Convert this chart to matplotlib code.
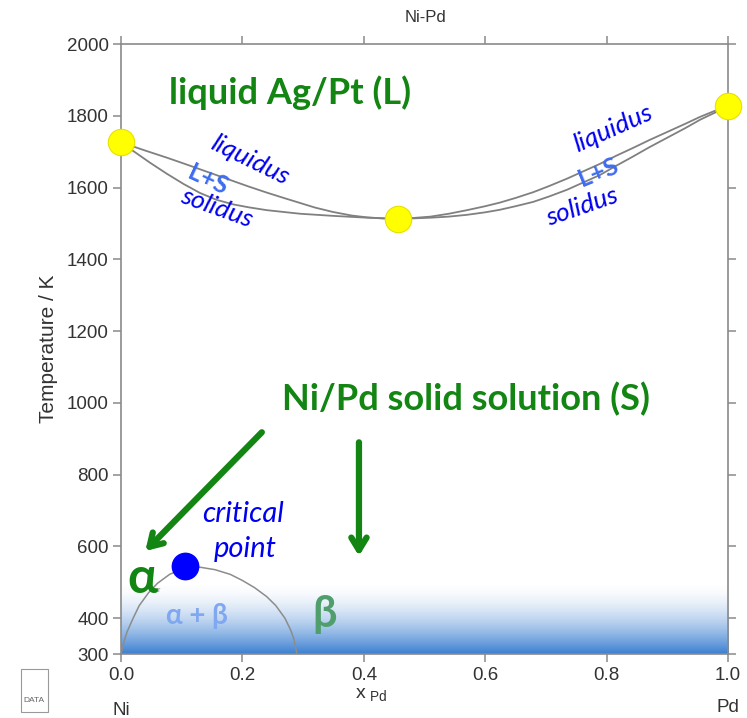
import numpy as np
import matplotlib.pyplot as plt
from matplotlib.patches import Rectangle

plt.rcParams['font.family'] = ['Liberation Sans', 'DejaVu Sans']
plt.rcParams['mathtext.fontset'] = 'custom'
plt.rcParams['mathtext.rm'] = 'Liberation Sans'

# ---------------- data (x_Pd, T in K) ----------------
liq_x = [0.0, 0.04, 0.076, 0.105, 0.13, 0.16, 0.185, 0.21, 0.24, 0.27, 0.295,
         0.32, 0.349, 0.38, 0.405, 0.43, 0.456, 0.48, 0.51, 0.54, 0.57, 0.60,
         0.624, 0.65, 0.679, 0.705, 0.735, 0.76, 0.789, 0.815, 0.843, 0.87,
         0.90, 0.93, 0.954, 0.98, 1.0]
liq_T = [1726, 1703, 1683, 1666, 1651, 1633, 1618, 1603, 1586, 1570, 1557,
         1544, 1532, 1522, 1517, 1514, 1513, 1515, 1519, 1527, 1537, 1548,
         1558, 1571, 1587, 1604, 1625, 1644, 1666, 1688, 1710, 1732,
         1755, 1778, 1797, 1815, 1828]

sol_x = [0.0, 0.02, 0.048, 0.075, 0.103, 0.13, 0.157, 0.185, 0.21, 0.24,
         0.295, 0.35, 0.405, 0.456, 0.48, 0.51, 0.54, 0.57, 0.60, 0.624,
         0.65, 0.679, 0.705, 0.735, 0.76, 0.789, 0.815, 0.843, 0.87, 0.90,
         0.93, 0.954, 0.98, 1.0]
sol_T = [1726, 1702, 1669, 1639, 1610, 1585, 1566, 1553, 1545, 1537,
         1527, 1521, 1516, 1513, 1514, 1516, 1519, 1524, 1531, 1538,
         1548, 1560, 1575, 1594, 1613, 1635, 1660, 1686, 1712, 1739,
         1766, 1789, 1810, 1828]

gap_x = [0.0, 0.005, 0.01, 0.02, 0.03, 0.045, 0.06, 0.08, 0.105, 0.13,
         0.155, 0.18, 0.20, 0.22, 0.24, 0.255, 0.27, 0.28, 0.285, 0.29]
gap_T = [300, 335, 362, 400, 435, 470, 497, 522, 540, 542,
         535, 522, 505, 485, 460, 435, 400, 365, 340, 300]

melt_x = [0.0, 0.456, 1.0]
melt_T = [1726, 1513, 1828]
crit_x, crit_T = 0.105, 545

x_ticks = [0.0, 0.2, 0.4, 0.6, 0.8, 1.0]
x_ticklabels = ['0.0', '0.2', '0.4', '0.6', '0.8', '1.0']
y_ticks = [300, 400, 600, 800, 1000, 1200, 1400, 1600, 1800, 2000]

GREEN = '#128512'
BLUE = '#0000f0'
LBLUE = '#3d6cf0'
TXT = '#333333'
SPINE = '#8a8a8a'

fig = plt.figure(figsize=(7.47, 7.18), dpi=100)
ax = fig.add_axes([0.162, 0.0891, 0.8126, 0.8496])
ax.set_xlim(0, 1)
ax.set_ylim(300, 2000)

# blue fade at the bottom of the solid-solution field
g_top = 500
n = 200
t = np.linspace(0, 1, n)[:, None]          # 0 at bottom, 1 at top
alpha = (1 - t) ** 1.7
rgba = np.zeros((n, 2, 4))
rgba[..., 0] = 0.23
rgba[..., 1] = 0.50
rgba[..., 2] = 0.82
rgba[..., 3] = alpha
ax.imshow(rgba, extent=[0, 1, 300, g_top], origin='lower', aspect='auto',
          zorder=1, interpolation='bilinear')

# phase boundaries
ax.plot(liq_x, liq_T, color='#808080', lw=1.3, zorder=2)
ax.plot(sol_x, sol_T, color='#808080', lw=1.3, zorder=2)
ax.plot(gap_x, gap_T, color='#8c8c8c', lw=1.1, zorder=2)

ax.plot(melt_x, melt_T, 'o', ms=19, color='#ffff00', mec='#e8e000', mew=0.8,
        zorder=5, clip_on=False)
ax.plot(crit_x, crit_T, 'o', ms=19, color='#0000ff', zorder=5, clip_on=False)

# axes styling
for side in ['left', 'right', 'top', 'bottom']:
    ax.spines[side].set_color(SPINE)
    ax.spines[side].set_linewidth(1.2)
ax.set_xticks(x_ticks)
ax.set_xticklabels(x_ticklabels)
ax.set_yticks(y_ticks)
ax.tick_params(direction='out', length=6, width=1.1, color=SPINE,
               labelsize=13.5, labelcolor=TXT, top=True, right=True, pad=3)
ax.set_ylabel('Temperature / K', fontsize=15, color=TXT, labelpad=6)

fig.text(0.569, 0.975, 'Ni-Pd', fontsize=12, color=TXT, ha='center', va='center')
fig.text(0.497, 0.032, r'x$_{\mathrm{\ Pd}}$', fontsize=14, color=TXT,
         ha='center', va='center')
fig.text(0.162, 0.011, 'Ni', fontsize=13.5, color=TXT, ha='center', va='center')
fig.text(0.975, 0.014, 'Pd', fontsize=13.5, color=TXT, ha='center', va='center')

# small logo in the corner
fig.add_artist(Rectangle((0.028, 0.008), 0.036, 0.06, transform=fig.transFigure,
                         fill=False, ec='#999999', lw=0.8))
fig.text(0.046, 0.024, 'DATA', fontsize=6, color='#666666', ha='center', va='center')

# annotations
lab = ['Lato', 'DejaVu Sans']
ax.text(0.278, 1864, 'liquid Ag/Pt (L)', fontsize=26, fontweight='bold',
        color=GREEN, ha='center', va='center', family=lab, zorder=6)
ax.text(0.568, 1010, 'Ni/Pd solid solution (S)', fontsize=26, fontweight='bold',
        color=GREEN, ha='center', va='center', family=lab, zorder=6)

ax.text(0.2125, 1677, 'liquidus', fontsize=19, style='italic', color=BLUE,
        rotation=-26, ha='center', va='center', family=lab, zorder=6)
ax.text(0.143, 1622, 'L+S', fontsize=18, fontweight='bold', color=LBLUE,
        rotation=-25, ha='center', va='center', family=lab, zorder=6)
ax.text(0.158, 1544, 'solidus', fontsize=19, style='italic', color=BLUE,
        rotation=-20, ha='center', va='center', family=lab, zorder=6)

ax.text(0.811, 1766, 'liquidus', fontsize=19, style='italic', color=BLUE,
        rotation=24, ha='center', va='center', family=lab, zorder=6)
ax.text(0.786, 1641, 'L+S', fontsize=18, fontweight='bold', color=LBLUE,
        rotation=22, ha='center', va='center', family=lab, zorder=6)
ax.text(0.759, 1547, 'solidus', fontsize=19, style='italic', color=BLUE,
        rotation=19, ha='center', va='center', family=lab, zorder=6)

ax.text(0.201, 690, 'critical', fontsize=21, style='italic', color=BLUE,
        ha='center', va='center', family=lab, zorder=6)
ax.text(0.205, 592, 'point', fontsize=21, style='italic', color=BLUE,
        ha='center', va='center', family=lab, zorder=6)

ax.text(0.036, 510, 'α', fontsize=36, fontweight='bold', color=GREEN,
        ha='center', va='center', family=lab, zorder=6)
ax.text(0.062, 476, 'r', fontsize=5, color='#777777', ha='center', va='center', zorder=6)
ax.text(0.125, 406, 'α + β', fontsize=20, fontweight='bold', color='#80a8f0',
        ha='center', va='center', family=lab, zorder=6)
ax.text(0.336, 411, 'β', fontsize=31, fontweight='bold', color='#4f9e6c',
        ha='center', va='center', family=lab, zorder=6)

arrow = dict(arrowstyle='->, head_length=0.9, head_width=0.55', color=GREEN,
             lw=4.5, shrinkA=0, shrinkB=0)
ax.annotate('', xy=(0.040, 587), xytext=(0.232, 918), arrowprops=arrow, zorder=6)
ax.annotate('', xy=(0.392, 573), xytext=(0.392, 890), arrowprops=arrow, zorder=6)

fig.savefig('out.png', dpi=100)
